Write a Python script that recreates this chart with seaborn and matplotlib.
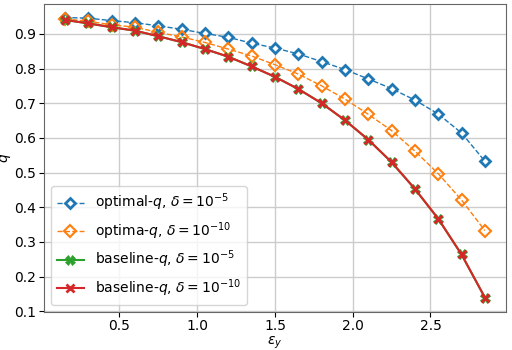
import numpy as np
import matplotlib
matplotlib.use("Agg")
import matplotlib.pyplot as plt
import seaborn as sns

# epsilon_y values
eps_y = [0.15, 0.30, 0.45, 0.60, 0.75, 0.90, 1.05, 1.20, 1.35, 1.50,
         1.65, 1.80, 1.95, 2.10, 2.25, 2.40, 2.55, 2.70, 2.85]

# optimal q, delta = 1e-5
opt_q_5 = [0.947, 0.945, 0.938, 0.932, 0.923, 0.913, 0.901, 0.890, 0.873, 0.859,
           0.842, 0.820, 0.797, 0.770, 0.742, 0.709, 0.669, 0.614, 0.533]
# optimal q, delta = 1e-10
opt_q_10 = [0.943, 0.936, 0.926, 0.919, 0.904, 0.891, 0.875, 0.856, 0.836, 0.811,
            0.784, 0.750, 0.712, 0.668, 0.621, 0.562, 0.497, 0.421, 0.333]
# baseline q (same for both deltas)
base_q_5 = [0.940, 0.930, 0.919, 0.909, 0.893, 0.876, 0.856, 0.834, 0.806, 0.776,
            0.741, 0.700, 0.651, 0.595, 0.530, 0.453, 0.367, 0.264, 0.140]
base_q_10 = [0.940, 0.930, 0.919, 0.909, 0.893, 0.876, 0.856, 0.834, 0.806, 0.776,
             0.741, 0.700, 0.651, 0.595, 0.530, 0.453, 0.367, 0.264, 0.140]

labels = [r"optimal-$q$, $\delta=10^{-5}$", r"optima-$q$, $\delta=10^{-10}$",
          r"baseline-$q$, $\delta=10^{-5}$", r"baseline-$q$, $\delta=10^{-10}$"]

pal = sns.color_palette("tab10")

fig, ax = plt.subplots(figsize=(5.12, 3.5), dpi=100)

sns.lineplot(x=eps_y, y=opt_q_5, ax=ax, color=pal[0], linestyle="--", lw=1,
             marker="D", markersize=5, markerfacecolor="white", markeredgecolor=pal[0],
             markeredgewidth=2, label=labels[0])
sns.lineplot(x=eps_y, y=opt_q_10, ax=ax, color=pal[1], linestyle="--", lw=1,
             marker="D", markersize=6, markerfacecolor="none", markeredgecolor=pal[1],
             markeredgewidth=1.5, label=labels[1])
sns.lineplot(x=eps_y, y=base_q_5, ax=ax, color=pal[2], lw=1.5,
             marker="X", markersize=7, markeredgecolor=pal[2], markeredgewidth=0.5,
             label=labels[2])
sns.lineplot(x=eps_y, y=base_q_10, ax=ax, color=pal[3], lw=1.5,
             marker="x", markersize=6, markeredgecolor=pal[3], markeredgewidth=2,
             label=labels[3])

ax.set_xlabel(r"$\varepsilon_y$", fontsize=10, labelpad=1)
ax.set_ylabel(r"$q$", fontsize=10, labelpad=1)
ax.set_xticks([0.5, 1.0, 1.5, 2.0, 2.5])
ax.set_yticks([0.1, 0.2, 0.3, 0.4, 0.5, 0.6, 0.7, 0.8, 0.9])
ax.tick_params(labelsize=10, pad=2)
ax.grid(True, color="#cccccc", lw=1)
for s in ax.spines.values():
    s.set_color("#666666")
ax.legend(loc="lower left", fontsize=10)

plt.subplots_adjust(left=0.086, right=0.988, top=0.99, bottom=0.11)
plt.savefig("out.png")
